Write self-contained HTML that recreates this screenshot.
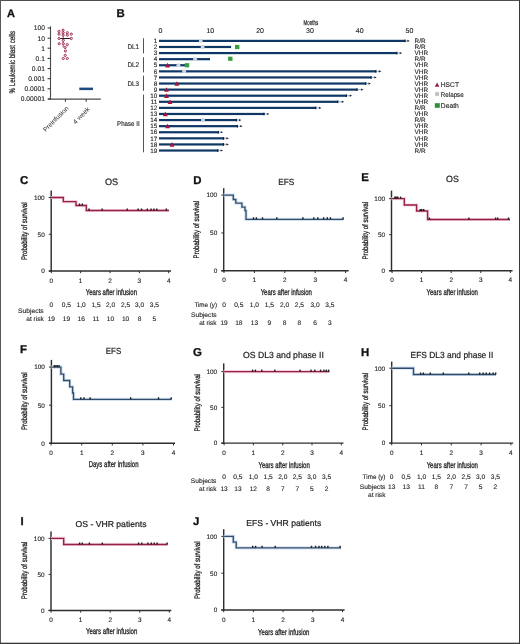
<!DOCTYPE html>
<html><head><meta charset="utf-8"><title>Figure</title>
<style>html,body{margin:0;padding:0;background:#fff;width:520px;height:644px;overflow:hidden}svg{display:block;font-family:"Liberation Sans",sans-serif;text-rendering:geometricPrecision;will-change:transform}</style>
</head><body>
<svg width="520" height="644" viewBox="0 0 520 644" font-family="Liberation Sans, sans-serif">
<rect x="0" y="0" width="520" height="644" fill="#ffffff"/>
<text x="6.9" y="16.8" font-size="11" font-weight="bold" fill="#111" stroke="#111" stroke-width="0.3">A</text>
<text x="0" y="0" font-size="8.3" text-anchor="middle" fill="#1f1f1f" stroke="#1f1f1f" stroke-width="0.22" textLength="62.5" lengthAdjust="spacingAndGlyphs" transform="translate(14.66 62.2) rotate(-90)">% Leukemic blast cells</text>
<line x1="50.5" y1="26.3" x2="50.5" y2="99.8" stroke="#4a4a4a" stroke-width="1.1"/>
<line x1="47.6" y1="28" x2="50.5" y2="28" stroke="#2e2e2e" stroke-width="1"/>
<text x="44.9" y="30.35" font-size="6.7" text-anchor="end" fill="#1f1f1f" stroke="#1f1f1f" stroke-width="0.12">100</text>
<line x1="47.6" y1="38.2" x2="50.5" y2="38.2" stroke="#2e2e2e" stroke-width="1"/>
<text x="44.9" y="40.55" font-size="6.7" text-anchor="end" fill="#1f1f1f" stroke="#1f1f1f" stroke-width="0.12">10</text>
<line x1="47.6" y1="48.2" x2="50.5" y2="48.2" stroke="#2e2e2e" stroke-width="1"/>
<text x="44.9" y="50.55" font-size="6.7" text-anchor="end" fill="#1f1f1f" stroke="#1f1f1f" stroke-width="0.12">1</text>
<line x1="47.6" y1="58.4" x2="50.5" y2="58.4" stroke="#2e2e2e" stroke-width="1"/>
<text x="44.9" y="60.75" font-size="6.7" text-anchor="end" fill="#1f1f1f" stroke="#1f1f1f" stroke-width="0.12">0.1</text>
<line x1="47.6" y1="68.6" x2="50.5" y2="68.6" stroke="#2e2e2e" stroke-width="1"/>
<text x="44.9" y="70.95" font-size="6.7" text-anchor="end" fill="#1f1f1f" stroke="#1f1f1f" stroke-width="0.12">0.01</text>
<line x1="47.6" y1="78.7" x2="50.5" y2="78.7" stroke="#2e2e2e" stroke-width="1"/>
<text x="44.9" y="81.05" font-size="6.7" text-anchor="end" fill="#1f1f1f" stroke="#1f1f1f" stroke-width="0.12">0.001</text>
<line x1="47.6" y1="88.8" x2="50.5" y2="88.8" stroke="#2e2e2e" stroke-width="1"/>
<text x="44.9" y="91.15" font-size="6.7" text-anchor="end" fill="#1f1f1f" stroke="#1f1f1f" stroke-width="0.12">0.0001</text>
<line x1="47.6" y1="98.9" x2="50.5" y2="98.9" stroke="#2e2e2e" stroke-width="1"/>
<text x="44.9" y="101.25" font-size="6.7" text-anchor="end" fill="#1f1f1f" stroke="#1f1f1f" stroke-width="0.12">0.00001</text>
<line x1="48" y1="99.2" x2="100.8" y2="99.2" stroke="#4a4a4a" stroke-width="1.2"/>
<line x1="65.4" y1="99.2" x2="65.4" y2="101.8" stroke="#2e2e2e" stroke-width="1"/>
<line x1="86.2" y1="99.2" x2="86.2" y2="101.8" stroke="#2e2e2e" stroke-width="1"/>
<text x="0" y="0" font-size="6.6" text-anchor="end" fill="#1f1f1f" transform="translate(69.0 108.8) rotate(-45)">Preinfusion</text>
<text x="0" y="0" font-size="6.6" text-anchor="end" fill="#1f1f1f" transform="translate(90.2 109.6) rotate(-45)">4 week</text>
<line x1="63.2" y1="30.5" x2="63.2" y2="47.5" stroke="#962344" stroke-width="0.8"/>
<line x1="58.6" y1="38.5" x2="71.8" y2="38.5" stroke="#2a1a22" stroke-width="1"/>
<circle cx="59" cy="31.4" r="1.12" fill="#f6cfd9" stroke="#962344" stroke-width="0.85"/>
<circle cx="59" cy="34.1" r="1.12" fill="#f6cfd9" stroke="#962344" stroke-width="0.85"/>
<circle cx="63.1" cy="30.2" r="1.12" fill="#f6cfd9" stroke="#962344" stroke-width="0.85"/>
<circle cx="63.1" cy="32.7" r="1.12" fill="#f6cfd9" stroke="#962344" stroke-width="0.85"/>
<circle cx="63.1" cy="35.2" r="1.12" fill="#f6cfd9" stroke="#962344" stroke-width="0.85"/>
<circle cx="67.3" cy="32.7" r="1.12" fill="#f6cfd9" stroke="#962344" stroke-width="0.85"/>
<circle cx="67.3" cy="35.2" r="1.12" fill="#f6cfd9" stroke="#962344" stroke-width="0.85"/>
<circle cx="71.3" cy="34.1" r="1.12" fill="#f6cfd9" stroke="#962344" stroke-width="0.85"/>
<circle cx="59" cy="38.5" r="1.12" fill="#f6cfd9" stroke="#962344" stroke-width="0.85"/>
<circle cx="71.3" cy="38.5" r="1.12" fill="#f6cfd9" stroke="#962344" stroke-width="0.85"/>
<circle cx="63.3" cy="40.4" r="1.12" fill="#f6cfd9" stroke="#962344" stroke-width="0.85"/>
<circle cx="59.2" cy="43.7" r="1.12" fill="#f6cfd9" stroke="#962344" stroke-width="0.85"/>
<circle cx="63.3" cy="43.8" r="1.12" fill="#f6cfd9" stroke="#962344" stroke-width="0.85"/>
<circle cx="67.3" cy="44.6" r="1.12" fill="#f6cfd9" stroke="#962344" stroke-width="0.85"/>
<circle cx="65.2" cy="47.5" r="1.12" fill="#f6cfd9" stroke="#962344" stroke-width="0.85"/>
<circle cx="65.4" cy="51" r="1.12" fill="#f6cfd9" stroke="#962344" stroke-width="0.85"/>
<circle cx="65.2" cy="55.4" r="1.12" fill="#f6cfd9" stroke="#962344" stroke-width="0.85"/>
<circle cx="63.3" cy="58.5" r="1.12" fill="#f6cfd9" stroke="#962344" stroke-width="0.85"/>
<circle cx="67.3" cy="58.5" r="1.12" fill="#f6cfd9" stroke="#962344" stroke-width="0.85"/>
<rect x="79.3" y="87.6" width="13.7" height="2.5" fill="#1d4a80"/>
<text x="116.5" y="17.2" font-size="11.4" font-weight="bold" fill="#111" stroke="#111" stroke-width="0.3">B</text>
<text x="303.6" y="25" font-size="7" textLength="14.5" lengthAdjust="spacingAndGlyphs" fill="#1f1f1f" stroke="#1f1f1f" stroke-width="0.25">Months</text>
<text x="160.5" y="32.5" font-size="7" text-anchor="middle" fill="#1f1f1f" stroke="#1f1f1f" stroke-width="0.12">0</text>
<text x="210.3" y="32.5" font-size="7" text-anchor="middle" fill="#1f1f1f" stroke="#1f1f1f" stroke-width="0.12">10</text>
<text x="260.1" y="32.5" font-size="7" text-anchor="middle" fill="#1f1f1f" stroke="#1f1f1f" stroke-width="0.12">20</text>
<text x="309.9" y="32.5" font-size="7" text-anchor="middle" fill="#1f1f1f" stroke="#1f1f1f" stroke-width="0.12">30</text>
<text x="359.7" y="32.5" font-size="7" text-anchor="middle" fill="#1f1f1f" stroke="#1f1f1f" stroke-width="0.12">40</text>
<text x="409.5" y="32.5" font-size="7" text-anchor="middle" fill="#1f1f1f" stroke="#1f1f1f" stroke-width="0.12">50</text>
<text x="157.2" y="43.1" font-size="6.3" text-anchor="end" fill="#1f1f1f" stroke="#1f1f1f" stroke-width="0.12">1</text>
<rect x="159" y="39.8" width="246.6" height="2.2" fill="#0e3766"/>
<rect x="404.4" y="39.6" width="1.2" height="2.6" fill="#0c2340"/>
<line x1="405.6" y1="40.9" x2="407.6" y2="40.9" stroke="#6f88a8" stroke-width="0.7"/>
<path d="M407.4 39.8L409.8 40.9L407.4 42Z" fill="#1a1e2a"/>
<text x="414.6" y="43.1" font-size="6.4" fill="#1f1f1f" stroke="#1f1f1f" stroke-width="0.12">R/R</text>
<text x="157.2" y="49.19" font-size="6.3" text-anchor="end" fill="#1f1f1f" stroke="#1f1f1f" stroke-width="0.12">2</text>
<rect x="159" y="45.89" width="72.1" height="2.2" fill="#0e3766"/>
<text x="414.6" y="49.19" font-size="6.4" fill="#1f1f1f" stroke="#1f1f1f" stroke-width="0.12">R/R</text>
<text x="157.2" y="55.28" font-size="6.3" text-anchor="end" fill="#1f1f1f" stroke="#1f1f1f" stroke-width="0.12">3</text>
<rect x="159" y="51.98" width="238.4" height="2.2" fill="#0e3766"/>
<rect x="396.2" y="51.78" width="1.2" height="2.6" fill="#0c2340"/>
<line x1="397.4" y1="53.08" x2="399.9" y2="53.08" stroke="#6f88a8" stroke-width="0.7"/>
<path d="M399.7 51.98L402.1 53.08L399.7 54.18Z" fill="#1a1e2a"/>
<text x="414.6" y="55.28" font-size="6.4" fill="#1f1f1f" stroke="#1f1f1f" stroke-width="0.12">VHR</text>
<text x="157.2" y="61.37" font-size="6.3" text-anchor="end" fill="#1f1f1f" stroke="#1f1f1f" stroke-width="0.12">4</text>
<rect x="159" y="58.07" width="51" height="2.2" fill="#0e3766"/>
<text x="414.6" y="61.37" font-size="6.4" fill="#1f1f1f" stroke="#1f1f1f" stroke-width="0.12">R/R</text>
<text x="157.2" y="67.46" font-size="6.3" text-anchor="end" fill="#1f1f1f" stroke="#1f1f1f" stroke-width="0.12">5</text>
<rect x="159" y="64.16" width="29.7" height="2.2" fill="#0e3766"/>
<text x="414.6" y="67.46" font-size="6.4" fill="#1f1f1f" stroke="#1f1f1f" stroke-width="0.12">VHR</text>
<text x="157.2" y="73.55" font-size="6.3" text-anchor="end" fill="#1f1f1f" stroke="#1f1f1f" stroke-width="0.12">6</text>
<rect x="159" y="70.25" width="217.4" height="2.2" fill="#0e3766"/>
<rect x="375.2" y="70.05" width="1.2" height="2.6" fill="#0c2340"/>
<line x1="376.4" y1="71.35" x2="379.1" y2="71.35" stroke="#6f88a8" stroke-width="0.7"/>
<path d="M378.9 70.25L381.3 71.35L378.9 72.45Z" fill="#1a1e2a"/>
<text x="414.6" y="73.55" font-size="6.4" fill="#1f1f1f" stroke="#1f1f1f" stroke-width="0.12">VHR</text>
<text x="157.2" y="79.64" font-size="6.3" text-anchor="end" fill="#1f1f1f" stroke="#1f1f1f" stroke-width="0.12">7</text>
<rect x="159" y="76.34" width="212.7" height="2.2" fill="#0e3766"/>
<rect x="370.5" y="76.14" width="1.2" height="2.6" fill="#0c2340"/>
<line x1="371.7" y1="77.44" x2="374.5" y2="77.44" stroke="#6f88a8" stroke-width="0.7"/>
<path d="M374.3 76.34L376.7 77.44L374.3 78.54Z" fill="#1a1e2a"/>
<text x="414.6" y="79.64" font-size="6.4" fill="#1f1f1f" stroke="#1f1f1f" stroke-width="0.12">VHR</text>
<text x="157.2" y="85.73" font-size="6.3" text-anchor="end" fill="#1f1f1f" stroke="#1f1f1f" stroke-width="0.12">8</text>
<rect x="159" y="82.43" width="207.3" height="2.2" fill="#0e3766"/>
<rect x="365.1" y="82.23" width="1.2" height="2.6" fill="#0c2340"/>
<line x1="366.3" y1="83.53" x2="368.7" y2="83.53" stroke="#6f88a8" stroke-width="0.7"/>
<path d="M368.5 82.43L370.9 83.53L368.5 84.63Z" fill="#1a1e2a"/>
<text x="414.6" y="85.73" font-size="6.4" fill="#1f1f1f" stroke="#1f1f1f" stroke-width="0.12">VHR</text>
<text x="157.2" y="91.82" font-size="6.3" text-anchor="end" fill="#1f1f1f" stroke="#1f1f1f" stroke-width="0.12">9</text>
<rect x="159" y="88.52" width="198.6" height="2.2" fill="#0e3766"/>
<rect x="356.4" y="88.32" width="1.2" height="2.6" fill="#0c2340"/>
<line x1="357.6" y1="89.62" x2="361.3" y2="89.62" stroke="#6f88a8" stroke-width="0.7"/>
<path d="M361.1 88.52L363.5 89.62L361.1 90.72Z" fill="#1a1e2a"/>
<text x="414.6" y="91.82" font-size="6.4" fill="#1f1f1f" stroke="#1f1f1f" stroke-width="0.12">VHR</text>
<text x="157.2" y="97.91" font-size="6.3" text-anchor="end" fill="#1f1f1f" stroke="#1f1f1f" stroke-width="0.12">10</text>
<rect x="159" y="94.61" width="188" height="2.2" fill="#0e3766"/>
<rect x="345.8" y="94.41" width="1.2" height="2.6" fill="#0c2340"/>
<line x1="347" y1="95.71" x2="349.9" y2="95.71" stroke="#6f88a8" stroke-width="0.7"/>
<path d="M349.7 94.61L352.1 95.71L349.7 96.81Z" fill="#1a1e2a"/>
<text x="414.6" y="97.91" font-size="6.4" fill="#1f1f1f" stroke="#1f1f1f" stroke-width="0.12">VHR</text>
<text x="157.2" y="104" font-size="6.3" text-anchor="end" fill="#1f1f1f" stroke="#1f1f1f" stroke-width="0.12">11</text>
<rect x="159" y="100.7" width="179.3" height="2.2" fill="#0e3766"/>
<rect x="337.1" y="100.5" width="1.2" height="2.6" fill="#0c2340"/>
<line x1="338.3" y1="101.8" x2="342" y2="101.8" stroke="#6f88a8" stroke-width="0.7"/>
<path d="M341.8 100.7L344.2 101.8L341.8 102.9Z" fill="#1a1e2a"/>
<text x="414.6" y="104" font-size="6.4" fill="#1f1f1f" stroke="#1f1f1f" stroke-width="0.12">VHR</text>
<text x="157.2" y="110.09" font-size="6.3" text-anchor="end" fill="#1f1f1f" stroke="#1f1f1f" stroke-width="0.12">12</text>
<rect x="159" y="106.79" width="157.3" height="2.2" fill="#0e3766"/>
<rect x="315.1" y="106.59" width="1.2" height="2.6" fill="#0c2340"/>
<line x1="316.3" y1="107.89" x2="319.2" y2="107.89" stroke="#6f88a8" stroke-width="0.7"/>
<path d="M319 106.79L321.4 107.89L319 108.99Z" fill="#1a1e2a"/>
<text x="414.6" y="110.09" font-size="6.4" fill="#1f1f1f" stroke="#1f1f1f" stroke-width="0.12">R/R</text>
<text x="157.2" y="116.18" font-size="6.3" text-anchor="end" fill="#1f1f1f" stroke="#1f1f1f" stroke-width="0.12">13</text>
<rect x="159" y="112.88" width="105.6" height="2.2" fill="#0e3766"/>
<rect x="263.4" y="112.68" width="1.2" height="2.6" fill="#0c2340"/>
<line x1="264.6" y1="113.98" x2="267.3" y2="113.98" stroke="#6f88a8" stroke-width="0.7"/>
<path d="M267.1 112.88L269.5 113.98L267.1 115.08Z" fill="#1a1e2a"/>
<text x="414.6" y="116.18" font-size="6.4" fill="#1f1f1f" stroke="#1f1f1f" stroke-width="0.12">VHR</text>
<text x="157.2" y="122.27" font-size="6.3" text-anchor="end" fill="#1f1f1f" stroke="#1f1f1f" stroke-width="0.12">14</text>
<rect x="159" y="118.97" width="78.1" height="2.2" fill="#0e3766"/>
<rect x="235.9" y="118.77" width="1.2" height="2.6" fill="#0c2340"/>
<line x1="237.1" y1="120.07" x2="239.2" y2="120.07" stroke="#6f88a8" stroke-width="0.7"/>
<path d="M239 118.97L241.4 120.07L239 121.17Z" fill="#1a1e2a"/>
<text x="414.6" y="122.27" font-size="6.4" fill="#1f1f1f" stroke="#1f1f1f" stroke-width="0.12">R/R</text>
<text x="157.2" y="128.36" font-size="6.3" text-anchor="end" fill="#1f1f1f" stroke="#1f1f1f" stroke-width="0.12">15</text>
<rect x="159" y="125.06" width="79" height="2.2" fill="#0e3766"/>
<rect x="236.8" y="124.86" width="1.2" height="2.6" fill="#0c2340"/>
<line x1="238" y1="126.16" x2="240.4" y2="126.16" stroke="#6f88a8" stroke-width="0.7"/>
<path d="M240.2 125.06L242.6 126.16L240.2 127.26Z" fill="#1a1e2a"/>
<text x="414.6" y="128.36" font-size="6.4" fill="#1f1f1f" stroke="#1f1f1f" stroke-width="0.12">VHR</text>
<text x="157.2" y="134.45" font-size="6.3" text-anchor="end" fill="#1f1f1f" stroke="#1f1f1f" stroke-width="0.12">16</text>
<rect x="159" y="131.15" width="59.9" height="2.2" fill="#0e3766"/>
<rect x="217.7" y="130.95" width="1.2" height="2.6" fill="#0c2340"/>
<line x1="218.9" y1="132.25" x2="221" y2="132.25" stroke="#6f88a8" stroke-width="0.7"/>
<path d="M220.8 131.15L223.2 132.25L220.8 133.35Z" fill="#1a1e2a"/>
<text x="414.6" y="134.45" font-size="6.4" fill="#1f1f1f" stroke="#1f1f1f" stroke-width="0.12">VHR</text>
<text x="157.2" y="140.54" font-size="6.3" text-anchor="end" fill="#1f1f1f" stroke="#1f1f1f" stroke-width="0.12">17</text>
<rect x="159" y="137.24" width="65.1" height="2.2" fill="#0e3766"/>
<rect x="222.9" y="137.04" width="1.2" height="2.6" fill="#0c2340"/>
<line x1="224.1" y1="138.34" x2="226.6" y2="138.34" stroke="#6f88a8" stroke-width="0.7"/>
<path d="M226.4 137.24L228.8 138.34L226.4 139.44Z" fill="#1a1e2a"/>
<text x="414.6" y="140.54" font-size="6.4" fill="#1f1f1f" stroke="#1f1f1f" stroke-width="0.12">VHR</text>
<text x="157.2" y="146.63" font-size="6.3" text-anchor="end" fill="#1f1f1f" stroke="#1f1f1f" stroke-width="0.12">18</text>
<rect x="159" y="143.33" width="65.1" height="2.2" fill="#0e3766"/>
<rect x="222.9" y="143.13" width="1.2" height="2.6" fill="#0c2340"/>
<line x1="224.1" y1="144.43" x2="226.6" y2="144.43" stroke="#6f88a8" stroke-width="0.7"/>
<path d="M226.4 143.33L228.8 144.43L226.4 145.53Z" fill="#1a1e2a"/>
<text x="414.6" y="146.63" font-size="6.4" fill="#1f1f1f" stroke="#1f1f1f" stroke-width="0.12">VHR</text>
<text x="157.2" y="152.72" font-size="6.3" text-anchor="end" fill="#1f1f1f" stroke="#1f1f1f" stroke-width="0.12">19</text>
<rect x="159" y="149.42" width="59.4" height="2.2" fill="#0e3766"/>
<rect x="217.2" y="149.22" width="1.2" height="2.6" fill="#0c2340"/>
<line x1="218.4" y1="150.52" x2="220.9" y2="150.52" stroke="#6f88a8" stroke-width="0.7"/>
<path d="M220.7 149.42L223.1 150.52L220.7 151.62Z" fill="#1a1e2a"/>
<text x="414.6" y="152.72" font-size="6.4" fill="#1f1f1f" stroke="#1f1f1f" stroke-width="0.12">R/R</text>
<line x1="143.5" y1="38.2" x2="143.5" y2="53.4" stroke="#3f5878" stroke-width="1"/>
<line x1="143.5" y1="57.2" x2="143.5" y2="72.4" stroke="#3f5878" stroke-width="1"/>
<line x1="143.5" y1="75.7" x2="143.5" y2="90.9" stroke="#3f5878" stroke-width="1"/>
<line x1="143.5" y1="94.6" x2="143.5" y2="152.3" stroke="#3f5878" stroke-width="1"/>
<text x="127.4" y="48.5" font-size="6.8" textLength="11.7" lengthAdjust="spacingAndGlyphs" fill="#1f1f1f" stroke="#1f1f1f" stroke-width="0.12">DL1</text>
<text x="127.4" y="67.2" font-size="6.8" textLength="11.7" lengthAdjust="spacingAndGlyphs" fill="#1f1f1f" stroke="#1f1f1f" stroke-width="0.12">DL2</text>
<text x="127.4" y="85.9" font-size="6.8" textLength="11.7" lengthAdjust="spacingAndGlyphs" fill="#1f1f1f" stroke="#1f1f1f" stroke-width="0.12">DL3</text>
<text x="117.1" y="126.1" font-size="6.8" textLength="22.5" lengthAdjust="spacingAndGlyphs" fill="#1f1f1f" stroke="#1f1f1f" stroke-width="0.12">Phase II</text>
<path d="M165.15 67.46L167.6 62.86L170.05 67.46Z" fill="#a5133c"/>
<path d="M174.45 85.73L176.9 81.13L179.35 85.73Z" fill="#a5133c"/>
<path d="M164.05 91.82L166.5 87.22L168.95 91.82Z" fill="#a5133c"/>
<path d="M164.05 97.91L166.5 93.31L168.95 97.91Z" fill="#a5133c"/>
<path d="M167.55 104L170 99.4L172.45 104Z" fill="#a5133c"/>
<path d="M162.85 116.18L165.3 111.58L167.75 116.18Z" fill="#a5133c"/>
<path d="M165.15 128.36L167.6 123.76L170.05 128.36Z" fill="#a5133c"/>
<path d="M169.55 146.63L172 142.03L174.45 146.63Z" fill="#a5133c"/>
<circle cx="200.8" cy="40.9" r="2.0" fill="#cfd7e1"/>
<circle cx="202.6" cy="46.99" r="2.0" fill="#cfd7e1"/>
<circle cx="195.1" cy="59.17" r="2.0" fill="#cfd7e1"/>
<circle cx="178.4" cy="65.26" r="2.0" fill="#cfd7e1"/>
<circle cx="184.1" cy="71.35" r="2.0" fill="#cfd7e1"/>
<circle cx="203" cy="120.07" r="2.0" fill="#cfd7e1"/>
<rect x="235" y="44.89" width="4.4" height="4.2" fill="#37a03e"/>
<rect x="228.1" y="56.67" width="4.4" height="4.2" fill="#37a03e"/>
<rect x="184.8" y="63.16" width="4.4" height="4.2" fill="#37a03e"/>
<path d="M434.8 86.7L437.1 82.5L439.4 86.7Z" fill="#9c1a40"/>
<text x="440.8" y="86.8" font-size="6.8" textLength="18.2" lengthAdjust="spacingAndGlyphs" fill="#1f1f1f" stroke="#1f1f1f" stroke-width="0.12">HSCT</text>
<circle cx="437.1" cy="94.0" r="2.2" fill="#c4bcc6"/>
<text x="440.8" y="96.9" font-size="6.8" textLength="22.9" lengthAdjust="spacingAndGlyphs" fill="#1f1f1f" stroke="#1f1f1f" stroke-width="0.12">Relapse</text>
<rect x="434.8" y="103.2" width="5" height="4.6" fill="#2f8f3a"/>
<text x="440.8" y="107.7" font-size="6.8" textLength="18" lengthAdjust="spacingAndGlyphs" fill="#1f1f1f" stroke="#1f1f1f" stroke-width="0.12">Death</text>
<text x="20.1" y="183.6" font-size="11.4" font-weight="bold" fill="#111" stroke="#111" stroke-width="0.3">C</text>
<text x="111.6" y="184.9" font-size="9.3" text-anchor="middle" textLength="13.2" lengthAdjust="spacingAndGlyphs" fill="#1f1f1f" stroke="#1f1f1f" stroke-width="0.22">OS</text>
<text x="0" y="0" font-size="8" text-anchor="middle" fill="#1f1f1f" stroke="#1f1f1f" stroke-width="0.3" textLength="57.5" lengthAdjust="spacingAndGlyphs" transform="translate(27.48 231.25) rotate(-90)">Probability of survival</text>
<line x1="51.2" y1="190.6" x2="51.2" y2="271.7" stroke="#2e2e2e" stroke-width="1.45"/>
<line x1="48.8" y1="271" x2="171" y2="271" stroke="#2e2e2e" stroke-width="1.45"/>
<line x1="48.8" y1="197.5" x2="51.2" y2="197.5" stroke="#2e2e2e" stroke-width="1"/>
<text x="44.7" y="199.8" font-size="6.4" text-anchor="end" fill="#1f1f1f" stroke="#1f1f1f" stroke-width="0.12">100</text>
<line x1="48.8" y1="234.25" x2="51.2" y2="234.25" stroke="#2e2e2e" stroke-width="1"/>
<text x="44.7" y="236.55" font-size="6.4" text-anchor="end" fill="#1f1f1f" stroke="#1f1f1f" stroke-width="0.12">50</text>
<line x1="48.8" y1="271" x2="51.2" y2="271" stroke="#2e2e2e" stroke-width="1"/>
<text x="44.7" y="273.3" font-size="6.4" text-anchor="end" fill="#1f1f1f" stroke="#1f1f1f" stroke-width="0.12">0</text>
<line x1="51.3" y1="271" x2="51.3" y2="273.2" stroke="#2e2e2e" stroke-width="1"/>
<text x="51.3" y="282.6" font-size="6.4" text-anchor="middle" fill="#1f1f1f" stroke="#1f1f1f" stroke-width="0.12">0</text>
<line x1="80.65" y1="271" x2="80.65" y2="273.2" stroke="#2e2e2e" stroke-width="1"/>
<text x="80.65" y="282.6" font-size="6.4" text-anchor="middle" fill="#1f1f1f" stroke="#1f1f1f" stroke-width="0.12">1</text>
<line x1="110" y1="271" x2="110" y2="273.2" stroke="#2e2e2e" stroke-width="1"/>
<text x="110" y="282.6" font-size="6.4" text-anchor="middle" fill="#1f1f1f" stroke="#1f1f1f" stroke-width="0.12">2</text>
<line x1="139.35" y1="271" x2="139.35" y2="273.2" stroke="#2e2e2e" stroke-width="1"/>
<text x="139.35" y="282.6" font-size="6.4" text-anchor="middle" fill="#1f1f1f" stroke="#1f1f1f" stroke-width="0.12">3</text>
<line x1="168.7" y1="271" x2="168.7" y2="273.2" stroke="#2e2e2e" stroke-width="1"/>
<text x="168.7" y="282.6" font-size="6.4" text-anchor="middle" fill="#1f1f1f" stroke="#1f1f1f" stroke-width="0.12">4</text>
<text x="111.4" y="295.26" font-size="8.5" text-anchor="middle" textLength="51.3" lengthAdjust="spacingAndGlyphs" fill="#1f1f1f" stroke="#1f1f1f" stroke-width="0.3">Years after infusion</text>
<path d="M51.2 197.5H63.3 V201.6H76 V205.5H86.3 V210.5H169" fill="none" stroke="#f5cfdc" stroke-width="3.2" stroke-linejoin="miter"/>
<path d="M51.2 197.5H63.3 V201.6H76 V205.5H86.3 V210.5H169" fill="none" stroke="#962243" stroke-width="1.35" stroke-linejoin="miter"/>
<rect x="78.8" y="203.5" width="1.4" height="2" fill="#1a1a1a"/>
<rect x="81.6" y="203.5" width="1.4" height="2" fill="#1a1a1a"/>
<rect x="88.3" y="208.5" width="1.4" height="2" fill="#1a1a1a"/>
<rect x="101.4" y="208.5" width="1.4" height="2" fill="#1a1a1a"/>
<rect x="126.5" y="208.5" width="1.4" height="2" fill="#1a1a1a"/>
<rect x="137.4" y="208.5" width="1.4" height="2" fill="#1a1a1a"/>
<rect x="140.8" y="208.5" width="1.4" height="2" fill="#1a1a1a"/>
<rect x="146.6" y="208.5" width="1.4" height="2" fill="#1a1a1a"/>
<rect x="150.3" y="208.5" width="1.4" height="2" fill="#1a1a1a"/>
<rect x="153.2" y="208.5" width="1.4" height="2" fill="#1a1a1a"/>
<rect x="156.1" y="208.5" width="1.4" height="2" fill="#1a1a1a"/>
<rect x="165.6" y="208.5" width="1.4" height="2" fill="#1a1a1a"/>
<text x="43.7" y="312.55" font-size="6.6" text-anchor="end" textLength="25.6" lengthAdjust="spacingAndGlyphs" fill="#1f1f1f" stroke="#1f1f1f" stroke-width="0.12">Subjects</text>
<text x="43.7" y="320.75" font-size="6.6" text-anchor="end" textLength="17.4" lengthAdjust="spacingAndGlyphs" fill="#1f1f1f" stroke="#1f1f1f" stroke-width="0.12">at risk</text>
<text x="51.3" y="306.75" font-size="6.6" text-anchor="middle" fill="#1f1f1f" stroke="#1f1f1f" stroke-width="0.12">0</text>
<text x="51.3" y="320.85" font-size="6.6" text-anchor="middle" fill="#1f1f1f" stroke="#1f1f1f" stroke-width="0.12">19</text>
<text x="66.4" y="306.75" font-size="6.6" text-anchor="middle" fill="#1f1f1f" stroke="#1f1f1f" stroke-width="0.12">0,5</text>
<text x="66.4" y="320.85" font-size="6.6" text-anchor="middle" fill="#1f1f1f" stroke="#1f1f1f" stroke-width="0.12">19</text>
<text x="81.2" y="306.75" font-size="6.6" text-anchor="middle" fill="#1f1f1f" stroke="#1f1f1f" stroke-width="0.12">1,0</text>
<text x="81.2" y="320.85" font-size="6.6" text-anchor="middle" fill="#1f1f1f" stroke="#1f1f1f" stroke-width="0.12">16</text>
<text x="96" y="306.75" font-size="6.6" text-anchor="middle" fill="#1f1f1f" stroke="#1f1f1f" stroke-width="0.12">1,5</text>
<text x="96" y="320.85" font-size="6.6" text-anchor="middle" fill="#1f1f1f" stroke="#1f1f1f" stroke-width="0.12">11</text>
<text x="110.5" y="306.75" font-size="6.6" text-anchor="middle" fill="#1f1f1f" stroke="#1f1f1f" stroke-width="0.12">2,0</text>
<text x="110.5" y="320.85" font-size="6.6" text-anchor="middle" fill="#1f1f1f" stroke="#1f1f1f" stroke-width="0.12">10</text>
<text x="125.6" y="306.75" font-size="6.6" text-anchor="middle" fill="#1f1f1f" stroke="#1f1f1f" stroke-width="0.12">2,5</text>
<text x="125.6" y="320.85" font-size="6.6" text-anchor="middle" fill="#1f1f1f" stroke="#1f1f1f" stroke-width="0.12">10</text>
<text x="139.6" y="306.75" font-size="6.6" text-anchor="middle" fill="#1f1f1f" stroke="#1f1f1f" stroke-width="0.12">3,0</text>
<text x="139.6" y="320.85" font-size="6.6" text-anchor="middle" fill="#1f1f1f" stroke="#1f1f1f" stroke-width="0.12">8</text>
<text x="154.4" y="306.75" font-size="6.6" text-anchor="middle" fill="#1f1f1f" stroke="#1f1f1f" stroke-width="0.12">3,5</text>
<text x="154.4" y="320.85" font-size="6.6" text-anchor="middle" fill="#1f1f1f" stroke="#1f1f1f" stroke-width="0.12">5</text>
<text x="193.2" y="183.6" font-size="11.4" font-weight="bold" fill="#111" stroke="#111" stroke-width="0.3">D</text>
<text x="286.2" y="184.9" font-size="8.9" text-anchor="middle" textLength="16.1" lengthAdjust="spacingAndGlyphs" fill="#1f1f1f" stroke="#1f1f1f" stroke-width="0.22">EFS</text>
<text x="0" y="0" font-size="8" text-anchor="middle" fill="#1f1f1f" stroke="#1f1f1f" stroke-width="0.3" textLength="57.5" lengthAdjust="spacingAndGlyphs" transform="translate(199.38 229.65) rotate(-90)">Probability of survival</text>
<line x1="223.7" y1="188.2" x2="223.7" y2="271.5" stroke="#2e2e2e" stroke-width="1.45"/>
<line x1="221.3" y1="270.8" x2="348.6" y2="270.8" stroke="#2e2e2e" stroke-width="1.45"/>
<line x1="221.3" y1="195.1" x2="223.7" y2="195.1" stroke="#2e2e2e" stroke-width="1"/>
<text x="217.2" y="197.4" font-size="6.4" text-anchor="end" fill="#1f1f1f" stroke="#1f1f1f" stroke-width="0.12">100</text>
<line x1="221.3" y1="232.95" x2="223.7" y2="232.95" stroke="#2e2e2e" stroke-width="1"/>
<text x="217.2" y="235.25" font-size="6.4" text-anchor="end" fill="#1f1f1f" stroke="#1f1f1f" stroke-width="0.12">50</text>
<line x1="221.3" y1="270.8" x2="223.7" y2="270.8" stroke="#2e2e2e" stroke-width="1"/>
<text x="217.2" y="273.1" font-size="6.4" text-anchor="end" fill="#1f1f1f" stroke="#1f1f1f" stroke-width="0.12">0</text>
<line x1="224" y1="270.8" x2="224" y2="273" stroke="#2e2e2e" stroke-width="1"/>
<text x="224" y="282.4" font-size="6.4" text-anchor="middle" fill="#1f1f1f" stroke="#1f1f1f" stroke-width="0.12">0</text>
<line x1="254.4" y1="270.8" x2="254.4" y2="273" stroke="#2e2e2e" stroke-width="1"/>
<text x="254.4" y="282.4" font-size="6.4" text-anchor="middle" fill="#1f1f1f" stroke="#1f1f1f" stroke-width="0.12">1</text>
<line x1="284.8" y1="270.8" x2="284.8" y2="273" stroke="#2e2e2e" stroke-width="1"/>
<text x="284.8" y="282.4" font-size="6.4" text-anchor="middle" fill="#1f1f1f" stroke="#1f1f1f" stroke-width="0.12">2</text>
<line x1="315.2" y1="270.8" x2="315.2" y2="273" stroke="#2e2e2e" stroke-width="1"/>
<text x="315.2" y="282.4" font-size="6.4" text-anchor="middle" fill="#1f1f1f" stroke="#1f1f1f" stroke-width="0.12">3</text>
<line x1="345.6" y1="270.8" x2="345.6" y2="273" stroke="#2e2e2e" stroke-width="1"/>
<text x="345.6" y="282.4" font-size="6.4" text-anchor="middle" fill="#1f1f1f" stroke="#1f1f1f" stroke-width="0.12">4</text>
<text x="286.3" y="295.06" font-size="8.5" text-anchor="middle" textLength="51.3" lengthAdjust="spacingAndGlyphs" fill="#1f1f1f" stroke="#1f1f1f" stroke-width="0.3">Years after infusion</text>
<path d="M223.7 195.1H233.3 V199.5H235.8 V203.1H241.9 V207.1H245 V210.6H246 V219.3H343.5" fill="none" stroke="#d3e2f1" stroke-width="3.2" stroke-linejoin="miter"/>
<path d="M223.7 195.1H233.3 V199.5H235.8 V203.1H241.9 V207.1H245 V210.6H246 V219.3H343.5" fill="none" stroke="#324c6c" stroke-width="1.35" stroke-linejoin="miter"/>
<rect x="252.8" y="217.3" width="1.4" height="2" fill="#1a1a1a"/>
<rect x="255.7" y="217.3" width="1.4" height="2" fill="#1a1a1a"/>
<rect x="261.8" y="217.3" width="1.4" height="2" fill="#1a1a1a"/>
<rect x="276.1" y="217.3" width="1.4" height="2" fill="#1a1a1a"/>
<rect x="302.2" y="217.3" width="1.4" height="2" fill="#1a1a1a"/>
<rect x="313.1" y="217.3" width="1.4" height="2" fill="#1a1a1a"/>
<rect x="317.1" y="217.3" width="1.4" height="2" fill="#1a1a1a"/>
<rect x="322.9" y="217.3" width="1.4" height="2" fill="#1a1a1a"/>
<rect x="326.6" y="217.3" width="1.4" height="2" fill="#1a1a1a"/>
<rect x="329.7" y="217.3" width="1.4" height="2" fill="#1a1a1a"/>
<rect x="342.4" y="217.3" width="1.4" height="2" fill="#1a1a1a"/>
<text x="217" y="306.65" font-size="6.6" text-anchor="end" textLength="22.6" lengthAdjust="spacingAndGlyphs" fill="#1f1f1f" stroke="#1f1f1f" stroke-width="0.12">Time (y)</text>
<text x="216.6" y="317.35" font-size="6.6" text-anchor="end" textLength="25.6" lengthAdjust="spacingAndGlyphs" fill="#1f1f1f" stroke="#1f1f1f" stroke-width="0.12">Subjects</text>
<text x="216.6" y="324.55" font-size="6.6" text-anchor="end" textLength="17.4" lengthAdjust="spacingAndGlyphs" fill="#1f1f1f" stroke="#1f1f1f" stroke-width="0.12">at risk</text>
<text x="224.1" y="306.65" font-size="6.6" text-anchor="middle" fill="#1f1f1f" stroke="#1f1f1f" stroke-width="0.12">0</text>
<text x="224.1" y="324.55" font-size="6.6" text-anchor="middle" fill="#1f1f1f" stroke="#1f1f1f" stroke-width="0.12">19</text>
<text x="238.8" y="306.65" font-size="6.6" text-anchor="middle" fill="#1f1f1f" stroke="#1f1f1f" stroke-width="0.12">0,5</text>
<text x="238.8" y="324.55" font-size="6.6" text-anchor="middle" fill="#1f1f1f" stroke="#1f1f1f" stroke-width="0.12">18</text>
<text x="254.4" y="306.65" font-size="6.6" text-anchor="middle" fill="#1f1f1f" stroke="#1f1f1f" stroke-width="0.12">1,0</text>
<text x="254.4" y="324.55" font-size="6.6" text-anchor="middle" fill="#1f1f1f" stroke="#1f1f1f" stroke-width="0.12">13</text>
<text x="269.3" y="306.65" font-size="6.6" text-anchor="middle" fill="#1f1f1f" stroke="#1f1f1f" stroke-width="0.12">1,5</text>
<text x="269.3" y="324.55" font-size="6.6" text-anchor="middle" fill="#1f1f1f" stroke="#1f1f1f" stroke-width="0.12">9</text>
<text x="284.5" y="306.65" font-size="6.6" text-anchor="middle" fill="#1f1f1f" stroke="#1f1f1f" stroke-width="0.12">2,0</text>
<text x="284.5" y="324.55" font-size="6.6" text-anchor="middle" fill="#1f1f1f" stroke="#1f1f1f" stroke-width="0.12">8</text>
<text x="299.4" y="306.65" font-size="6.6" text-anchor="middle" fill="#1f1f1f" stroke="#1f1f1f" stroke-width="0.12">2,5</text>
<text x="299.4" y="324.55" font-size="6.6" text-anchor="middle" fill="#1f1f1f" stroke="#1f1f1f" stroke-width="0.12">8</text>
<text x="315" y="306.65" font-size="6.6" text-anchor="middle" fill="#1f1f1f" stroke="#1f1f1f" stroke-width="0.12">3,0</text>
<text x="315" y="324.55" font-size="6.6" text-anchor="middle" fill="#1f1f1f" stroke="#1f1f1f" stroke-width="0.12">6</text>
<text x="329.9" y="306.65" font-size="6.6" text-anchor="middle" fill="#1f1f1f" stroke="#1f1f1f" stroke-width="0.12">3,5</text>
<text x="329.9" y="324.55" font-size="6.6" text-anchor="middle" fill="#1f1f1f" stroke="#1f1f1f" stroke-width="0.12">3</text>
<text x="361.2" y="180.5" font-size="11.4" font-weight="bold" fill="#111" stroke="#111" stroke-width="0.3">E</text>
<text x="452.5" y="181.8" font-size="9" text-anchor="middle" textLength="12.8" lengthAdjust="spacingAndGlyphs" fill="#1f1f1f" stroke="#1f1f1f" stroke-width="0.22">OS</text>
<text x="0" y="0" font-size="8" text-anchor="middle" fill="#1f1f1f" stroke="#1f1f1f" stroke-width="0.3" textLength="57.5" lengthAdjust="spacingAndGlyphs" transform="translate(368.08 230.7) rotate(-90)">Probability of survival</text>
<line x1="391.5" y1="190.6" x2="391.5" y2="271.5" stroke="#2e2e2e" stroke-width="1.45"/>
<line x1="389.1" y1="270.8" x2="512.5" y2="270.8" stroke="#2e2e2e" stroke-width="1.45"/>
<line x1="389.1" y1="198.6" x2="391.5" y2="198.6" stroke="#2e2e2e" stroke-width="1"/>
<text x="385" y="200.9" font-size="6.4" text-anchor="end" fill="#1f1f1f" stroke="#1f1f1f" stroke-width="0.12">100</text>
<line x1="389.1" y1="234.7" x2="391.5" y2="234.7" stroke="#2e2e2e" stroke-width="1"/>
<text x="385" y="237" font-size="6.4" text-anchor="end" fill="#1f1f1f" stroke="#1f1f1f" stroke-width="0.12">50</text>
<line x1="389.1" y1="270.8" x2="391.5" y2="270.8" stroke="#2e2e2e" stroke-width="1"/>
<text x="385" y="273.1" font-size="6.4" text-anchor="end" fill="#1f1f1f" stroke="#1f1f1f" stroke-width="0.12">0</text>
<line x1="392.1" y1="270.8" x2="392.1" y2="273" stroke="#2e2e2e" stroke-width="1"/>
<text x="392.1" y="282.4" font-size="6.4" text-anchor="middle" fill="#1f1f1f" stroke="#1f1f1f" stroke-width="0.12">0</text>
<line x1="421.65" y1="270.8" x2="421.65" y2="273" stroke="#2e2e2e" stroke-width="1"/>
<text x="421.65" y="282.4" font-size="6.4" text-anchor="middle" fill="#1f1f1f" stroke="#1f1f1f" stroke-width="0.12">1</text>
<line x1="451.2" y1="270.8" x2="451.2" y2="273" stroke="#2e2e2e" stroke-width="1"/>
<text x="451.2" y="282.4" font-size="6.4" text-anchor="middle" fill="#1f1f1f" stroke="#1f1f1f" stroke-width="0.12">2</text>
<line x1="480.75" y1="270.8" x2="480.75" y2="273" stroke="#2e2e2e" stroke-width="1"/>
<text x="480.75" y="282.4" font-size="6.4" text-anchor="middle" fill="#1f1f1f" stroke="#1f1f1f" stroke-width="0.12">3</text>
<line x1="510.3" y1="270.8" x2="510.3" y2="273" stroke="#2e2e2e" stroke-width="1"/>
<text x="510.3" y="282.4" font-size="6.4" text-anchor="middle" fill="#1f1f1f" stroke="#1f1f1f" stroke-width="0.12">4</text>
<text x="452.2" y="294.66" font-size="8.5" text-anchor="middle" textLength="51.3" lengthAdjust="spacingAndGlyphs" fill="#1f1f1f" stroke="#1f1f1f" stroke-width="0.3">Years after infusion</text>
<path d="M391.5 198.6H404.3 V205H416.6 V211H427.6 V219.5H510" fill="none" stroke="#f5cfdc" stroke-width="3.2" stroke-linejoin="miter"/>
<path d="M391.5 198.6H404.3 V205H416.6 V211H427.6 V219.5H510" fill="none" stroke="#962243" stroke-width="1.35" stroke-linejoin="miter"/>
<rect x="394.1" y="196.6" width="1.4" height="2" fill="#1a1a1a"/>
<rect x="395.1" y="196.6" width="1.4" height="2" fill="#1a1a1a"/>
<rect x="396.2" y="196.6" width="1.4" height="2" fill="#1a1a1a"/>
<rect x="397.2" y="196.6" width="1.4" height="2" fill="#1a1a1a"/>
<rect x="399.9" y="196.6" width="1.4" height="2" fill="#1a1a1a"/>
<rect x="419.5" y="209" width="1.4" height="2" fill="#1a1a1a"/>
<rect x="421" y="209" width="1.4" height="2" fill="#1a1a1a"/>
<rect x="423" y="209" width="1.4" height="2" fill="#1a1a1a"/>
<rect x="428.7" y="217.5" width="1.4" height="2" fill="#1a1a1a"/>
<rect x="468.2" y="217.5" width="1.4" height="2" fill="#1a1a1a"/>
<rect x="494.9" y="217.5" width="1.4" height="2" fill="#1a1a1a"/>
<rect x="497" y="217.5" width="1.4" height="2" fill="#1a1a1a"/>
<rect x="507.8" y="217.5" width="1.4" height="2" fill="#1a1a1a"/>
<text x="20" y="352.6" font-size="11.4" font-weight="bold" fill="#111" stroke="#111" stroke-width="0.3">F</text>
<text x="113.5" y="353.8" font-size="8.9" text-anchor="middle" textLength="15.4" lengthAdjust="spacingAndGlyphs" fill="#1f1f1f" stroke="#1f1f1f" stroke-width="0.22">EFS</text>
<text x="0" y="0" font-size="8" text-anchor="middle" fill="#1f1f1f" stroke="#1f1f1f" stroke-width="0.3" textLength="57.5" lengthAdjust="spacingAndGlyphs" transform="translate(27.48 401.2) rotate(-90)">Probability of survival</text>
<line x1="51.4" y1="359.9" x2="51.4" y2="444" stroke="#2e2e2e" stroke-width="1.45"/>
<line x1="49" y1="443.3" x2="175.1" y2="443.3" stroke="#2e2e2e" stroke-width="1.45"/>
<line x1="49" y1="367.1" x2="51.4" y2="367.1" stroke="#2e2e2e" stroke-width="1"/>
<text x="44.9" y="369.4" font-size="6.4" text-anchor="end" fill="#1f1f1f" stroke="#1f1f1f" stroke-width="0.12">100</text>
<line x1="49" y1="405.2" x2="51.4" y2="405.2" stroke="#2e2e2e" stroke-width="1"/>
<text x="44.9" y="407.5" font-size="6.4" text-anchor="end" fill="#1f1f1f" stroke="#1f1f1f" stroke-width="0.12">50</text>
<line x1="49" y1="443.3" x2="51.4" y2="443.3" stroke="#2e2e2e" stroke-width="1"/>
<text x="44.9" y="445.6" font-size="6.4" text-anchor="end" fill="#1f1f1f" stroke="#1f1f1f" stroke-width="0.12">0</text>
<line x1="51.1" y1="443.3" x2="51.1" y2="445.5" stroke="#2e2e2e" stroke-width="1"/>
<text x="51.1" y="454.9" font-size="6.4" text-anchor="middle" fill="#1f1f1f" stroke="#1f1f1f" stroke-width="0.12">0</text>
<line x1="81.7" y1="443.3" x2="81.7" y2="445.5" stroke="#2e2e2e" stroke-width="1"/>
<text x="81.7" y="454.9" font-size="6.4" text-anchor="middle" fill="#1f1f1f" stroke="#1f1f1f" stroke-width="0.12">1</text>
<line x1="112.3" y1="443.3" x2="112.3" y2="445.5" stroke="#2e2e2e" stroke-width="1"/>
<text x="112.3" y="454.9" font-size="6.4" text-anchor="middle" fill="#1f1f1f" stroke="#1f1f1f" stroke-width="0.12">2</text>
<line x1="142.9" y1="443.3" x2="142.9" y2="445.5" stroke="#2e2e2e" stroke-width="1"/>
<text x="142.9" y="454.9" font-size="6.4" text-anchor="middle" fill="#1f1f1f" stroke="#1f1f1f" stroke-width="0.12">3</text>
<line x1="173.5" y1="443.3" x2="173.5" y2="445.5" stroke="#2e2e2e" stroke-width="1"/>
<text x="173.5" y="454.9" font-size="6.4" text-anchor="middle" fill="#1f1f1f" stroke="#1f1f1f" stroke-width="0.12">4</text>
<text x="113.6" y="467.06" font-size="8.5" text-anchor="middle" textLength="49.9" lengthAdjust="spacingAndGlyphs" fill="#1f1f1f" stroke="#1f1f1f" stroke-width="0.3">Days after infusion</text>
<path d="M51.4 367.1H60.9 V374.1H63.7 V380.5H69.7 V386.9H72.6 V393H73.5 V399.3H171.6" fill="none" stroke="#d3e2f1" stroke-width="3.2" stroke-linejoin="miter"/>
<path d="M51.4 367.1H60.9 V374.1H63.7 V380.5H69.7 V386.9H72.6 V393H73.5 V399.3H171.6" fill="none" stroke="#324c6c" stroke-width="1.35" stroke-linejoin="miter"/>
<rect x="53.6" y="365.1" width="1.4" height="2" fill="#1a1a1a"/>
<rect x="55.2" y="365.1" width="1.4" height="2" fill="#1a1a1a"/>
<rect x="56.8" y="365.1" width="1.4" height="2" fill="#1a1a1a"/>
<rect x="58.4" y="365.1" width="1.4" height="2" fill="#1a1a1a"/>
<rect x="80.1" y="397.3" width="1.4" height="2" fill="#1a1a1a"/>
<rect x="83.3" y="397.3" width="1.4" height="2" fill="#1a1a1a"/>
<rect x="89.4" y="397.3" width="1.4" height="2" fill="#1a1a1a"/>
<rect x="130" y="397.3" width="1.4" height="2" fill="#1a1a1a"/>
<rect x="157.8" y="397.3" width="1.4" height="2" fill="#1a1a1a"/>
<rect x="170.5" y="397.3" width="1.4" height="2" fill="#1a1a1a"/>
<text x="193.1" y="355.9" font-size="11.4" font-weight="bold" fill="#111" stroke="#111" stroke-width="0.3">G</text>
<text x="243.1" y="357.7" font-size="8.8" textLength="80.8" lengthAdjust="spacingAndGlyphs" fill="#1f1f1f" stroke="#1f1f1f" stroke-width="0.22">OS DL3 and phase II</text>
<text x="0" y="0" font-size="8" text-anchor="middle" fill="#1f1f1f" stroke="#1f1f1f" stroke-width="0.3" textLength="57.5" lengthAdjust="spacingAndGlyphs" transform="translate(200.08 402.85) rotate(-90)">Probability of survival</text>
<line x1="223.7" y1="363.4" x2="223.7" y2="443.8" stroke="#2e2e2e" stroke-width="1.45"/>
<line x1="221.3" y1="443.1" x2="343.5" y2="443.1" stroke="#2e2e2e" stroke-width="1.45"/>
<line x1="221.3" y1="371.6" x2="223.7" y2="371.6" stroke="#2e2e2e" stroke-width="1"/>
<text x="217.2" y="373.9" font-size="6.4" text-anchor="end" fill="#1f1f1f" stroke="#1f1f1f" stroke-width="0.12">100</text>
<line x1="221.3" y1="407.35" x2="223.7" y2="407.35" stroke="#2e2e2e" stroke-width="1"/>
<text x="217.2" y="409.65" font-size="6.4" text-anchor="end" fill="#1f1f1f" stroke="#1f1f1f" stroke-width="0.12">50</text>
<line x1="221.3" y1="443.1" x2="223.7" y2="443.1" stroke="#2e2e2e" stroke-width="1"/>
<text x="217.2" y="445.4" font-size="6.4" text-anchor="end" fill="#1f1f1f" stroke="#1f1f1f" stroke-width="0.12">0</text>
<line x1="224.1" y1="443.1" x2="224.1" y2="445.3" stroke="#2e2e2e" stroke-width="1"/>
<text x="224.1" y="454.7" font-size="6.4" text-anchor="middle" fill="#1f1f1f" stroke="#1f1f1f" stroke-width="0.12">0</text>
<line x1="253.4" y1="443.1" x2="253.4" y2="445.3" stroke="#2e2e2e" stroke-width="1"/>
<text x="253.4" y="454.7" font-size="6.4" text-anchor="middle" fill="#1f1f1f" stroke="#1f1f1f" stroke-width="0.12">1</text>
<line x1="282.7" y1="443.1" x2="282.7" y2="445.3" stroke="#2e2e2e" stroke-width="1"/>
<text x="282.7" y="454.7" font-size="6.4" text-anchor="middle" fill="#1f1f1f" stroke="#1f1f1f" stroke-width="0.12">2</text>
<line x1="312" y1="443.1" x2="312" y2="445.3" stroke="#2e2e2e" stroke-width="1"/>
<text x="312" y="454.7" font-size="6.4" text-anchor="middle" fill="#1f1f1f" stroke="#1f1f1f" stroke-width="0.12">3</text>
<line x1="341.3" y1="443.1" x2="341.3" y2="445.3" stroke="#2e2e2e" stroke-width="1"/>
<text x="341.3" y="454.7" font-size="6.4" text-anchor="middle" fill="#1f1f1f" stroke="#1f1f1f" stroke-width="0.12">4</text>
<text x="284.1" y="467.66" font-size="8.5" text-anchor="middle" textLength="51.3" lengthAdjust="spacingAndGlyphs" fill="#1f1f1f" stroke="#1f1f1f" stroke-width="0.3">Years after infusion</text>
<path d="M223.7 371.6H329.4" fill="none" stroke="#f5cfdc" stroke-width="3.2" stroke-linejoin="miter"/>
<path d="M223.7 371.6H329.4" fill="none" stroke="#962243" stroke-width="1.35" stroke-linejoin="miter"/>
<rect x="251.9" y="369.6" width="1.4" height="2" fill="#1a1a1a"/>
<rect x="254.7" y="369.6" width="1.4" height="2" fill="#1a1a1a"/>
<rect x="261.1" y="369.6" width="1.4" height="2" fill="#1a1a1a"/>
<rect x="274.1" y="369.6" width="1.4" height="2" fill="#1a1a1a"/>
<rect x="299.4" y="369.6" width="1.4" height="2" fill="#1a1a1a"/>
<rect x="310.3" y="369.6" width="1.4" height="2" fill="#1a1a1a"/>
<rect x="314.1" y="369.6" width="1.4" height="2" fill="#1a1a1a"/>
<rect x="319.9" y="369.6" width="1.4" height="2" fill="#1a1a1a"/>
<rect x="323.3" y="369.6" width="1.4" height="2" fill="#1a1a1a"/>
<rect x="325.6" y="369.6" width="1.4" height="2" fill="#1a1a1a"/>
<rect x="327.9" y="369.6" width="1.4" height="2" fill="#1a1a1a"/>
<text x="216.4" y="483.25" font-size="6.6" text-anchor="end" textLength="25.6" lengthAdjust="spacingAndGlyphs" fill="#1f1f1f" stroke="#1f1f1f" stroke-width="0.12">Subjects</text>
<text x="216.4" y="490.95" font-size="6.6" text-anchor="end" textLength="17.4" lengthAdjust="spacingAndGlyphs" fill="#1f1f1f" stroke="#1f1f1f" stroke-width="0.12">at risk</text>
<text x="224.1" y="479.25" font-size="6.6" text-anchor="middle" fill="#1f1f1f" stroke="#1f1f1f" stroke-width="0.12">0</text>
<text x="224.1" y="490.95" font-size="6.6" text-anchor="middle" fill="#1f1f1f" stroke="#1f1f1f" stroke-width="0.12">13</text>
<text x="237.9" y="479.25" font-size="6.6" text-anchor="middle" fill="#1f1f1f" stroke="#1f1f1f" stroke-width="0.12">0,5</text>
<text x="237.9" y="490.95" font-size="6.6" text-anchor="middle" fill="#1f1f1f" stroke="#1f1f1f" stroke-width="0.12">13</text>
<text x="253.3" y="479.25" font-size="6.6" text-anchor="middle" fill="#1f1f1f" stroke="#1f1f1f" stroke-width="0.12">1,0</text>
<text x="253.3" y="490.95" font-size="6.6" text-anchor="middle" fill="#1f1f1f" stroke="#1f1f1f" stroke-width="0.12">12</text>
<text x="268.1" y="479.25" font-size="6.6" text-anchor="middle" fill="#1f1f1f" stroke="#1f1f1f" stroke-width="0.12">1,5</text>
<text x="268.1" y="490.95" font-size="6.6" text-anchor="middle" fill="#1f1f1f" stroke="#1f1f1f" stroke-width="0.12">8</text>
<text x="282.8" y="479.25" font-size="6.6" text-anchor="middle" fill="#1f1f1f" stroke="#1f1f1f" stroke-width="0.12">2,0</text>
<text x="282.8" y="490.95" font-size="6.6" text-anchor="middle" fill="#1f1f1f" stroke="#1f1f1f" stroke-width="0.12">7</text>
<text x="297.3" y="479.25" font-size="6.6" text-anchor="middle" fill="#1f1f1f" stroke="#1f1f1f" stroke-width="0.12">2,5</text>
<text x="297.3" y="490.95" font-size="6.6" text-anchor="middle" fill="#1f1f1f" stroke="#1f1f1f" stroke-width="0.12">7</text>
<text x="311.8" y="479.25" font-size="6.6" text-anchor="middle" fill="#1f1f1f" stroke="#1f1f1f" stroke-width="0.12">3,0</text>
<text x="311.8" y="490.95" font-size="6.6" text-anchor="middle" fill="#1f1f1f" stroke="#1f1f1f" stroke-width="0.12">5</text>
<text x="326.5" y="479.25" font-size="6.6" text-anchor="middle" fill="#1f1f1f" stroke="#1f1f1f" stroke-width="0.12">3,5</text>
<text x="326.5" y="490.95" font-size="6.6" text-anchor="middle" fill="#1f1f1f" stroke="#1f1f1f" stroke-width="0.12">2</text>
<text x="361" y="356.2" font-size="11.4" font-weight="bold" fill="#111" stroke="#111" stroke-width="0.3">H</text>
<text x="410.6" y="357.7" font-size="8.8" textLength="82.7" lengthAdjust="spacingAndGlyphs" fill="#1f1f1f" stroke="#1f1f1f" stroke-width="0.22">EFS DL3 and phase II</text>
<text x="0" y="0" font-size="8" text-anchor="middle" fill="#1f1f1f" stroke="#1f1f1f" stroke-width="0.3" textLength="57.5" lengthAdjust="spacingAndGlyphs" transform="translate(367.78 401.65) rotate(-90)">Probability of survival</text>
<line x1="391.7" y1="361.6" x2="391.7" y2="443.8" stroke="#2e2e2e" stroke-width="1.45"/>
<line x1="389.3" y1="443.1" x2="513.2" y2="443.1" stroke="#2e2e2e" stroke-width="1.45"/>
<line x1="389.3" y1="368.2" x2="391.7" y2="368.2" stroke="#2e2e2e" stroke-width="1"/>
<text x="385.2" y="370.5" font-size="6.4" text-anchor="end" fill="#1f1f1f" stroke="#1f1f1f" stroke-width="0.12">100</text>
<line x1="389.3" y1="405.65" x2="391.7" y2="405.65" stroke="#2e2e2e" stroke-width="1"/>
<text x="385.2" y="407.95" font-size="6.4" text-anchor="end" fill="#1f1f1f" stroke="#1f1f1f" stroke-width="0.12">50</text>
<line x1="389.3" y1="443.1" x2="391.7" y2="443.1" stroke="#2e2e2e" stroke-width="1"/>
<text x="385.2" y="445.4" font-size="6.4" text-anchor="end" fill="#1f1f1f" stroke="#1f1f1f" stroke-width="0.12">0</text>
<line x1="391.7" y1="443.1" x2="391.7" y2="445.3" stroke="#2e2e2e" stroke-width="1"/>
<text x="391.7" y="454.7" font-size="6.4" text-anchor="middle" fill="#1f1f1f" stroke="#1f1f1f" stroke-width="0.12">0</text>
<line x1="421.5" y1="443.1" x2="421.5" y2="445.3" stroke="#2e2e2e" stroke-width="1"/>
<text x="421.5" y="454.7" font-size="6.4" text-anchor="middle" fill="#1f1f1f" stroke="#1f1f1f" stroke-width="0.12">1</text>
<line x1="451.3" y1="443.1" x2="451.3" y2="445.3" stroke="#2e2e2e" stroke-width="1"/>
<text x="451.3" y="454.7" font-size="6.4" text-anchor="middle" fill="#1f1f1f" stroke="#1f1f1f" stroke-width="0.12">2</text>
<line x1="481.1" y1="443.1" x2="481.1" y2="445.3" stroke="#2e2e2e" stroke-width="1"/>
<text x="481.1" y="454.7" font-size="6.4" text-anchor="middle" fill="#1f1f1f" stroke="#1f1f1f" stroke-width="0.12">3</text>
<line x1="510.9" y1="443.1" x2="510.9" y2="445.3" stroke="#2e2e2e" stroke-width="1"/>
<text x="510.9" y="454.7" font-size="6.4" text-anchor="middle" fill="#1f1f1f" stroke="#1f1f1f" stroke-width="0.12">4</text>
<text x="452.3" y="467.66" font-size="8.5" text-anchor="middle" textLength="51.3" lengthAdjust="spacingAndGlyphs" fill="#1f1f1f" stroke="#1f1f1f" stroke-width="0.3">Years after infusion</text>
<path d="M391.7 368.2H413.5 V374.5H496" fill="none" stroke="#d3e2f1" stroke-width="3.2" stroke-linejoin="miter"/>
<path d="M391.7 368.2H413.5 V374.5H496" fill="none" stroke="#324c6c" stroke-width="1.35" stroke-linejoin="miter"/>
<rect x="419.9" y="372.5" width="1.4" height="2" fill="#1a1a1a"/>
<rect x="422.7" y="372.5" width="1.4" height="2" fill="#1a1a1a"/>
<rect x="429.6" y="372.5" width="1.4" height="2" fill="#1a1a1a"/>
<rect x="442.6" y="372.5" width="1.4" height="2" fill="#1a1a1a"/>
<rect x="468.1" y="372.5" width="1.4" height="2" fill="#1a1a1a"/>
<rect x="479" y="372.5" width="1.4" height="2" fill="#1a1a1a"/>
<rect x="482.4" y="372.5" width="1.4" height="2" fill="#1a1a1a"/>
<rect x="485.4" y="372.5" width="1.4" height="2" fill="#1a1a1a"/>
<rect x="488.9" y="372.5" width="1.4" height="2" fill="#1a1a1a"/>
<rect x="492.4" y="372.5" width="1.4" height="2" fill="#1a1a1a"/>
<rect x="495" y="372.5" width="1.4" height="2" fill="#1a1a1a"/>
<text x="385.4" y="479.25" font-size="6.6" text-anchor="end" textLength="22.6" lengthAdjust="spacingAndGlyphs" fill="#1f1f1f" stroke="#1f1f1f" stroke-width="0.12">Time (y)</text>
<text x="385.4" y="488.55" font-size="6.6" text-anchor="end" textLength="25.6" lengthAdjust="spacingAndGlyphs" fill="#1f1f1f" stroke="#1f1f1f" stroke-width="0.12">Subjects</text>
<text x="385.4" y="497.15" font-size="6.6" text-anchor="end" textLength="17.4" lengthAdjust="spacingAndGlyphs" fill="#1f1f1f" stroke="#1f1f1f" stroke-width="0.12">at risk</text>
<text x="391.7" y="479.25" font-size="6.6" text-anchor="middle" fill="#1f1f1f" stroke="#1f1f1f" stroke-width="0.12">0</text>
<text x="391.7" y="488.55" font-size="6.6" text-anchor="middle" fill="#1f1f1f" stroke="#1f1f1f" stroke-width="0.12">13</text>
<text x="406.2" y="479.25" font-size="6.6" text-anchor="middle" fill="#1f1f1f" stroke="#1f1f1f" stroke-width="0.12">0,5</text>
<text x="406.2" y="488.55" font-size="6.6" text-anchor="middle" fill="#1f1f1f" stroke="#1f1f1f" stroke-width="0.12">13</text>
<text x="421.5" y="479.25" font-size="6.6" text-anchor="middle" fill="#1f1f1f" stroke="#1f1f1f" stroke-width="0.12">1,0</text>
<text x="421.5" y="488.55" font-size="6.6" text-anchor="middle" fill="#1f1f1f" stroke="#1f1f1f" stroke-width="0.12">11</text>
<text x="436.3" y="479.25" font-size="6.6" text-anchor="middle" fill="#1f1f1f" stroke="#1f1f1f" stroke-width="0.12">1,5</text>
<text x="436.3" y="488.55" font-size="6.6" text-anchor="middle" fill="#1f1f1f" stroke="#1f1f1f" stroke-width="0.12">8</text>
<text x="451.4" y="479.25" font-size="6.6" text-anchor="middle" fill="#1f1f1f" stroke="#1f1f1f" stroke-width="0.12">2,0</text>
<text x="451.4" y="488.55" font-size="6.6" text-anchor="middle" fill="#1f1f1f" stroke="#1f1f1f" stroke-width="0.12">7</text>
<text x="466.2" y="479.25" font-size="6.6" text-anchor="middle" fill="#1f1f1f" stroke="#1f1f1f" stroke-width="0.12">2,5</text>
<text x="466.2" y="488.55" font-size="6.6" text-anchor="middle" fill="#1f1f1f" stroke="#1f1f1f" stroke-width="0.12">7</text>
<text x="480.6" y="479.25" font-size="6.6" text-anchor="middle" fill="#1f1f1f" stroke="#1f1f1f" stroke-width="0.12">3,0</text>
<text x="480.6" y="488.55" font-size="6.6" text-anchor="middle" fill="#1f1f1f" stroke="#1f1f1f" stroke-width="0.12">5</text>
<text x="495.4" y="479.25" font-size="6.6" text-anchor="middle" fill="#1f1f1f" stroke="#1f1f1f" stroke-width="0.12">3,5</text>
<text x="495.4" y="488.55" font-size="6.6" text-anchor="middle" fill="#1f1f1f" stroke="#1f1f1f" stroke-width="0.12">2</text>
<text x="20.5" y="524.7" font-size="11.4" font-weight="bold" fill="#111" stroke="#111" stroke-width="0.3">I</text>
<text x="75.6" y="526.6" font-size="8.6" textLength="70.9" lengthAdjust="spacingAndGlyphs" fill="#1f1f1f" stroke="#1f1f1f" stroke-width="0.22">OS - VHR patients</text>
<text x="0" y="0" font-size="8" text-anchor="middle" fill="#1f1f1f" stroke="#1f1f1f" stroke-width="0.3" textLength="57.5" lengthAdjust="spacingAndGlyphs" transform="translate(27.38 570.4) rotate(-90)">Probability of survival</text>
<line x1="51" y1="531.6" x2="51" y2="611.1" stroke="#2e2e2e" stroke-width="1.45"/>
<line x1="48.6" y1="610.4" x2="171.3" y2="610.4" stroke="#2e2e2e" stroke-width="1.45"/>
<line x1="48.6" y1="538.4" x2="51" y2="538.4" stroke="#2e2e2e" stroke-width="1"/>
<text x="44.5" y="540.7" font-size="6.4" text-anchor="end" fill="#1f1f1f" stroke="#1f1f1f" stroke-width="0.12">100</text>
<line x1="48.6" y1="574.4" x2="51" y2="574.4" stroke="#2e2e2e" stroke-width="1"/>
<text x="44.5" y="576.7" font-size="6.4" text-anchor="end" fill="#1f1f1f" stroke="#1f1f1f" stroke-width="0.12">50</text>
<line x1="48.6" y1="610.4" x2="51" y2="610.4" stroke="#2e2e2e" stroke-width="1"/>
<text x="44.5" y="612.7" font-size="6.4" text-anchor="end" fill="#1f1f1f" stroke="#1f1f1f" stroke-width="0.12">0</text>
<line x1="51.1" y1="610.4" x2="51.1" y2="612.6" stroke="#2e2e2e" stroke-width="1"/>
<text x="51.1" y="622" font-size="6.4" text-anchor="middle" fill="#1f1f1f" stroke="#1f1f1f" stroke-width="0.12">0</text>
<line x1="80.65" y1="610.4" x2="80.65" y2="612.6" stroke="#2e2e2e" stroke-width="1"/>
<text x="80.65" y="622" font-size="6.4" text-anchor="middle" fill="#1f1f1f" stroke="#1f1f1f" stroke-width="0.12">1</text>
<line x1="110.2" y1="610.4" x2="110.2" y2="612.6" stroke="#2e2e2e" stroke-width="1"/>
<text x="110.2" y="622" font-size="6.4" text-anchor="middle" fill="#1f1f1f" stroke="#1f1f1f" stroke-width="0.12">2</text>
<line x1="139.75" y1="610.4" x2="139.75" y2="612.6" stroke="#2e2e2e" stroke-width="1"/>
<text x="139.75" y="622" font-size="6.4" text-anchor="middle" fill="#1f1f1f" stroke="#1f1f1f" stroke-width="0.12">3</text>
<line x1="169.3" y1="610.4" x2="169.3" y2="612.6" stroke="#2e2e2e" stroke-width="1"/>
<text x="169.3" y="622" font-size="6.4" text-anchor="middle" fill="#1f1f1f" stroke="#1f1f1f" stroke-width="0.12">4</text>
<text x="111.6" y="634.46" font-size="8.5" text-anchor="middle" textLength="51.3" lengthAdjust="spacingAndGlyphs" fill="#1f1f1f" stroke="#1f1f1f" stroke-width="0.3">Years after infusion</text>
<path d="M51 538.4H63.7 V544.5H167.5" fill="none" stroke="#f5cfdc" stroke-width="3.2" stroke-linejoin="miter"/>
<path d="M51 538.4H63.7 V544.5H167.5" fill="none" stroke="#962243" stroke-width="1.35" stroke-linejoin="miter"/>
<rect x="78.9" y="542.5" width="1.4" height="2" fill="#1a1a1a"/>
<rect x="81.5" y="542.5" width="1.4" height="2" fill="#1a1a1a"/>
<rect x="88.7" y="542.5" width="1.4" height="2" fill="#1a1a1a"/>
<rect x="101.6" y="542.5" width="1.4" height="2" fill="#1a1a1a"/>
<rect x="137.9" y="542.5" width="1.4" height="2" fill="#1a1a1a"/>
<rect x="141.1" y="542.5" width="1.4" height="2" fill="#1a1a1a"/>
<rect x="147.2" y="542.5" width="1.4" height="2" fill="#1a1a1a"/>
<rect x="150.6" y="542.5" width="1.4" height="2" fill="#1a1a1a"/>
<rect x="153.5" y="542.5" width="1.4" height="2" fill="#1a1a1a"/>
<rect x="156.4" y="542.5" width="1.4" height="2" fill="#1a1a1a"/>
<rect x="166.4" y="542.5" width="1.4" height="2" fill="#1a1a1a"/>
<text x="193" y="524.6" font-size="11.4" font-weight="bold" fill="#111" stroke="#111" stroke-width="0.3">J</text>
<text x="246.3" y="526.4" font-size="8.6" textLength="74.9" lengthAdjust="spacingAndGlyphs" fill="#1f1f1f" stroke="#1f1f1f" stroke-width="0.22">EFS - VHR patients</text>
<text x="0" y="0" font-size="8" text-anchor="middle" fill="#1f1f1f" stroke="#1f1f1f" stroke-width="0.3" textLength="57.5" lengthAdjust="spacingAndGlyphs" transform="translate(200.08 570.2) rotate(-90)">Probability of survival</text>
<line x1="223.7" y1="529.2" x2="223.7" y2="610.7" stroke="#2e2e2e" stroke-width="1.45"/>
<line x1="221.3" y1="610" x2="344.6" y2="610" stroke="#2e2e2e" stroke-width="1.45"/>
<line x1="221.3" y1="536.4" x2="223.7" y2="536.4" stroke="#2e2e2e" stroke-width="1"/>
<text x="217.2" y="538.7" font-size="6.4" text-anchor="end" fill="#1f1f1f" stroke="#1f1f1f" stroke-width="0.12">100</text>
<line x1="221.3" y1="573.2" x2="223.7" y2="573.2" stroke="#2e2e2e" stroke-width="1"/>
<text x="217.2" y="575.5" font-size="6.4" text-anchor="end" fill="#1f1f1f" stroke="#1f1f1f" stroke-width="0.12">50</text>
<line x1="221.3" y1="610" x2="223.7" y2="610" stroke="#2e2e2e" stroke-width="1"/>
<text x="217.2" y="612.3" font-size="6.4" text-anchor="end" fill="#1f1f1f" stroke="#1f1f1f" stroke-width="0.12">0</text>
<line x1="223.7" y1="610" x2="223.7" y2="612.2" stroke="#2e2e2e" stroke-width="1"/>
<text x="223.7" y="621.6" font-size="6.4" text-anchor="middle" fill="#1f1f1f" stroke="#1f1f1f" stroke-width="0.12">0</text>
<line x1="253.4" y1="610" x2="253.4" y2="612.2" stroke="#2e2e2e" stroke-width="1"/>
<text x="253.4" y="621.6" font-size="6.4" text-anchor="middle" fill="#1f1f1f" stroke="#1f1f1f" stroke-width="0.12">1</text>
<line x1="283.1" y1="610" x2="283.1" y2="612.2" stroke="#2e2e2e" stroke-width="1"/>
<text x="283.1" y="621.6" font-size="6.4" text-anchor="middle" fill="#1f1f1f" stroke="#1f1f1f" stroke-width="0.12">2</text>
<line x1="312.8" y1="610" x2="312.8" y2="612.2" stroke="#2e2e2e" stroke-width="1"/>
<text x="312.8" y="621.6" font-size="6.4" text-anchor="middle" fill="#1f1f1f" stroke="#1f1f1f" stroke-width="0.12">3</text>
<line x1="342.5" y1="610" x2="342.5" y2="612.2" stroke="#2e2e2e" stroke-width="1"/>
<text x="342.5" y="621.6" font-size="6.4" text-anchor="middle" fill="#1f1f1f" stroke="#1f1f1f" stroke-width="0.12">4</text>
<text x="283.7" y="634.56" font-size="8.5" text-anchor="middle" textLength="51.3" lengthAdjust="spacingAndGlyphs" fill="#1f1f1f" stroke="#1f1f1f" stroke-width="0.3">Years after infusion</text>
<path d="M223.7 536.4H233.3 V542.1H236.2 V547.8H341" fill="none" stroke="#d3e2f1" stroke-width="3.2" stroke-linejoin="miter"/>
<path d="M223.7 536.4H233.3 V542.1H236.2 V547.8H341" fill="none" stroke="#324c6c" stroke-width="1.35" stroke-linejoin="miter"/>
<rect x="252" y="545.8" width="1.4" height="2" fill="#1a1a1a"/>
<rect x="254.9" y="545.8" width="1.4" height="2" fill="#1a1a1a"/>
<rect x="261.4" y="545.8" width="1.4" height="2" fill="#1a1a1a"/>
<rect x="274.5" y="545.8" width="1.4" height="2" fill="#1a1a1a"/>
<rect x="310.8" y="545.8" width="1.4" height="2" fill="#1a1a1a"/>
<rect x="314.9" y="545.8" width="1.4" height="2" fill="#1a1a1a"/>
<rect x="318.3" y="545.8" width="1.4" height="2" fill="#1a1a1a"/>
<rect x="321" y="545.8" width="1.4" height="2" fill="#1a1a1a"/>
<rect x="324.1" y="545.8" width="1.4" height="2" fill="#1a1a1a"/>
<rect x="327.2" y="545.8" width="1.4" height="2" fill="#1a1a1a"/>
<rect x="339.4" y="545.8" width="1.4" height="2" fill="#1a1a1a"/>
<rect x="0" y="0" width="520" height="1" fill="#505050"/>
<rect x="0" y="0" width="1" height="644" fill="#585858"/>
<rect x="519" y="0" width="1" height="644" fill="#383838"/>
<rect x="0" y="642.7" width="520" height="1.3" fill="#383838"/>
</svg>
</body></html>
